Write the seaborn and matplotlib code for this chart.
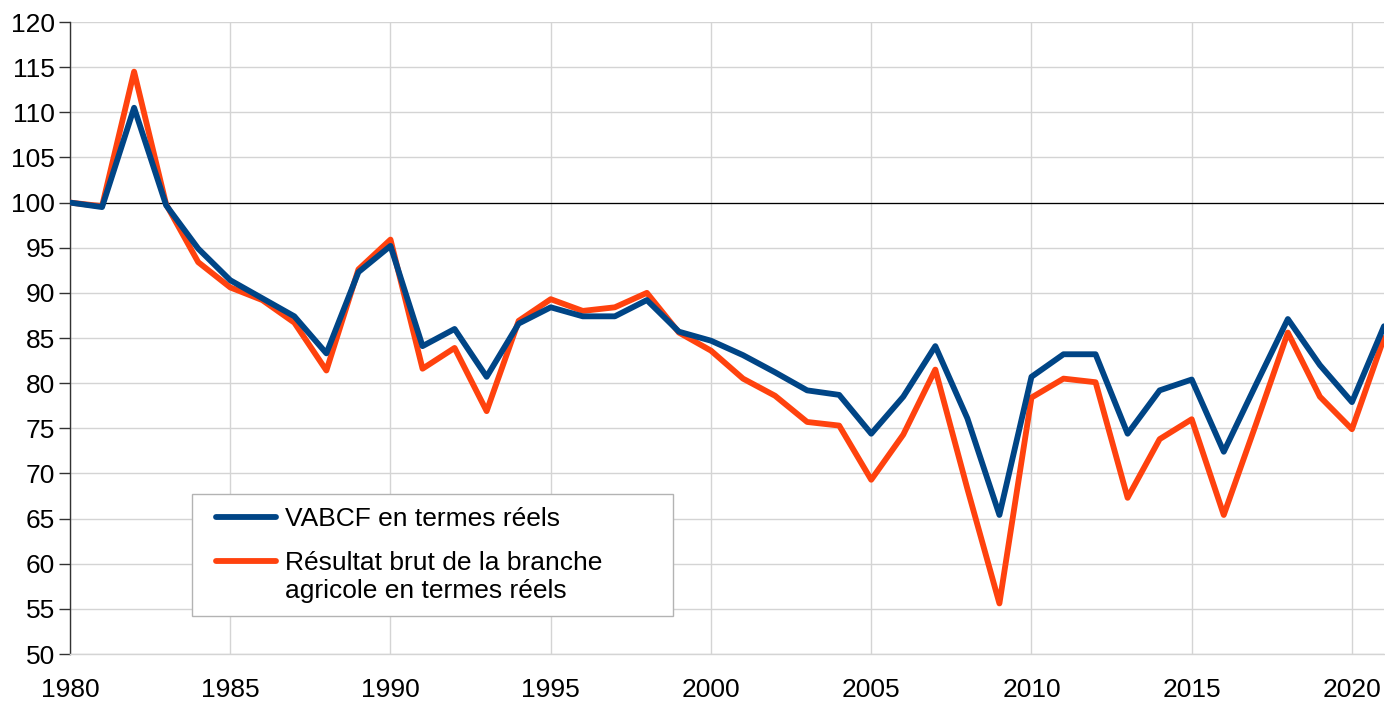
import numpy as np
import pandas as pd
import matplotlib
matplotlib.use("Agg")
import matplotlib.pyplot as plt
import seaborn as sns
from matplotlib.lines import Line2D
from matplotlib.legend_handler import HandlerLine2D

years = list(range(1980, 2022))
vabcf = [100.0, 99.5, 110.5, 99.7, 94.9, 91.4, 89.4, 87.4, 83.3, 92.3,
         95.2, 84.1, 86.0, 80.7, 86.6, 88.4, 87.4, 87.4, 89.2, 85.7,
         84.7, 83.1, 81.2, 79.2, 78.7, 74.4, 78.5, 84.1, 76.1, 65.4,
         80.7, 83.2, 83.2, 74.4, 79.2, 80.4, 72.4, 79.8, 87.1, 82.0,
         77.9, 86.3]
resultat = [100.0, 99.6, 114.5, 99.8, 93.4, 90.6, 89.2, 86.7, 81.4, 92.6,
            95.9, 81.6, 83.9, 76.9, 86.9, 89.3, 88.0, 88.4, 90.0, 85.6,
            83.6, 80.5, 78.6, 75.7, 75.3, 69.3, 74.3, 81.5, 68.3, 55.6,
            78.4, 80.5, 80.1, 67.3, 73.8, 76.0, 65.4, 75.4, 85.6, 78.5,
            74.9, 85.0]
label_a = "VABCF en termes réels"
label_b = "Résultat brut de la branche\nagricole en termes réels"
y_ticks = list(range(50, 121, 5))
x_ticks = list(range(1980, 2021, 5))

color_a = "#004586"
color_b = "#FF420E"

df = pd.DataFrame({
    "Année": years * 2,
    "Indice": vabcf + resultat,
    "Série": [label_a] * len(years) + [label_b] * len(years),
})

sns.set_theme(style="white")
plt.rcParams["font.family"] = ["Liberation Sans", "DejaVu Sans"]
plt.rcParams["text.color"] = "black"
plt.rcParams["xtick.color"] = "black"
plt.rcParams["ytick.color"] = "black"

fig = plt.figure(figsize=(13.85, 7.01), dpi=100)
ax = fig.add_axes([70 / 1385, 1 - 654 / 701, 1314 / 1385, 632 / 701])

ax.set_axisbelow(True)
ax.grid(True, color="#d4d4d4", linewidth=1.0)
ax.axhline(100, color="black", linewidth=0.9, zorder=1.5)

sns.lineplot(data=df, x="Année", y="Indice", hue="Série",
             palette={label_a: color_a, label_b: color_b},
             hue_order=[label_b, label_a],
             linewidth=4.2, ax=ax, legend=False, zorder=3)

ax.set_xlim(1980, 2021)
ax.set_ylim(50, 120)
ax.set_xticks(x_ticks)
ax.set_yticks(y_ticks)
ax.set_xlabel("")
ax.set_ylabel("")
ax.tick_params(axis="y", which="major", direction="out", length=8, width=1,
               color="#333333", labelcolor="black", pad=3, labelsize=19,
               left=True)
ax.tick_params(axis="x", which="major", length=0, pad=17, labelsize=19,
               labelcolor="black")

for s in ["top", "right"]:
    ax.spines[s].set_visible(False)
ax.spines["left"].set_color("#333333")
ax.spines["left"].set_linewidth(1.0)
ax.spines["bottom"].set_color("#d4d4d4")
ax.spines["bottom"].set_linewidth(1.0)

handles = [Line2D([], [], color=color_a, linewidth=4.2),
           Line2D([], [], color=color_b, linewidth=4.2)]
hmap = {h: HandlerLine2D(xpad=0.42) for h in handles}
leg = ax.legend(handles, [label_a, label_b], loc="lower left",
                bbox_to_anchor=(0.0926, 0.060, 0.366, 0.19),
                mode="expand", borderaxespad=0, handler_map=hmap,
                fontsize=19, frameon=True, fancybox=False,
                handlelength=2.69, handletextpad=0.34, borderpad=0.5,
                labelspacing=0.75, edgecolor="#b3b3b3", framealpha=1)
leg.get_frame().set_linewidth(1.0)
# align the second handle with the first line of its two-line label
h2 = leg.legend_handles[1]
yd = np.asarray(h2.get_ydata(), dtype=float)
h2.set_ydata(yd + 12.0)

fig.savefig("out.png", dpi=100)
